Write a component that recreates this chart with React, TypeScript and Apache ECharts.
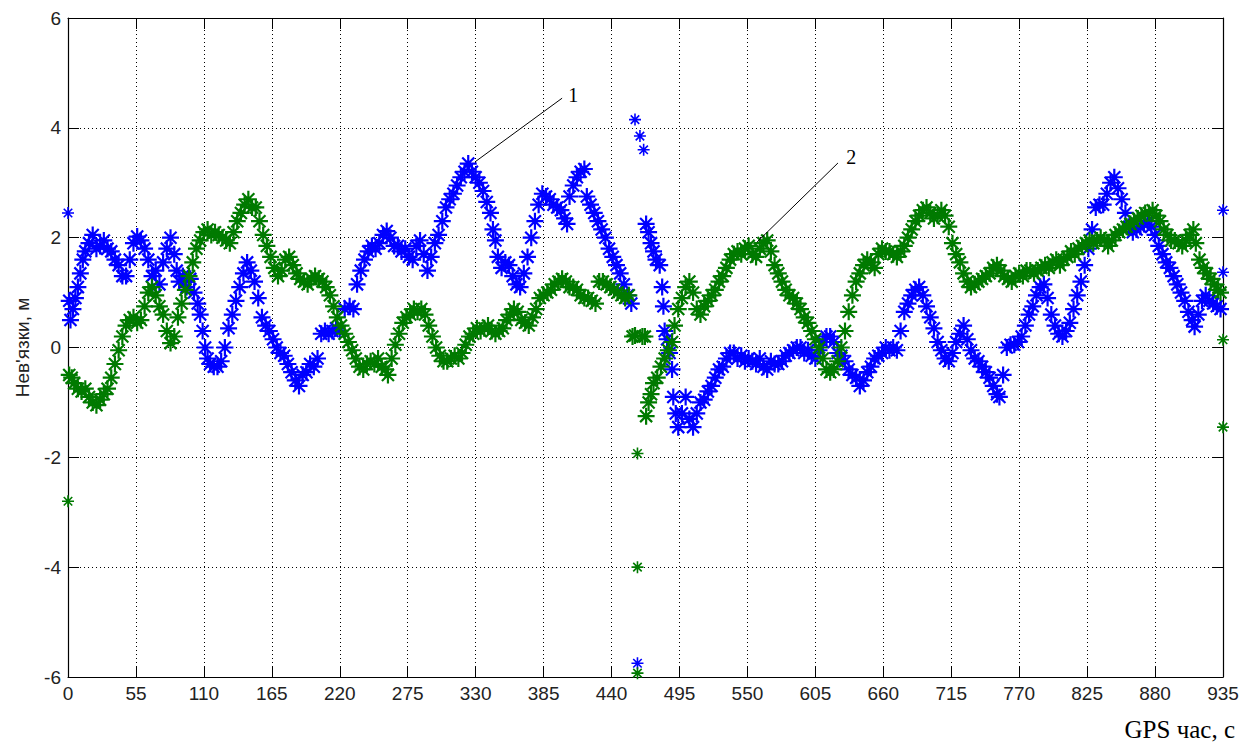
import React, { useEffect, useRef } from "react";
import * as echarts from "echarts";

const xMin = 0;
const xMax = 935;
const xStep = 55;
const yMin = -6;
const yMax = 6;
const yStep = 2;

const yAxisTitle = "Нев'язки, м";
const xAxisTitle = "GPS час, с";

// series 1 (blue): [time, residual]
const blueData: [number, number][] = [
  [1, 0.85], [2, 0.5], [4, 0.7], [6, 0.9], [8, 1.1], [10, 1.35], [12, 1.6], [14, 1.75], [17, 1.9],
  [20, 2.05], [23, 1.8], [26, 1.85], [29, 1.95], [32, 1.8], [35, 1.75], [38, 1.6], [41, 1.5], [44, 1.3], [47, 1.3],
  [50, 1.6], [53, 1.9], [56, 2.02], [59, 1.95], [62, 1.8], [65, 1.6], [68, 1.3], [71, 1.4], [74, 1.15], [77, 1.55],
  [80, 1.8], [83, 2.0], [86, 1.7], [88, 1.4], [90, 1.2], [93, 1.3], [96, 1.1], [99, 1.25], [102, 1.0], [105, 0.8],
  [107, 0.6], [109, 0.3], [111, 0.0], [113, -0.2], [115, -0.3], [118, -0.35], [121, -0.35], [124, -0.25], [127, 0.0], [130, 0.35],
  [133, 0.6], [136, 0.85], [139, 1.1], [142, 1.35], [145, 1.55], [148, 1.4], [151, 1.2], [154, 0.9], [157, 0.55], [160, 0.4],
  [163, 0.3], [166, 0.15], [169, 0.0], [172, -0.1], [175, -0.15], [178, -0.3], [181, -0.45], [184, -0.6], [187, -0.7], [190, -0.5],
  [193, -0.45], [196, -0.3], [199, -0.35], [202, -0.2], [205, 0.25], [208, 0.3], [211, 0.25], [214, 0.3], [217, 0.35], [220, 0.3],
  [224, 0.7], [228, 0.75], [231, 0.7], [234, 1.15], [237, 1.4], [240, 1.6], [243, 1.75], [246, 1.85], [249, 1.8], [252, 1.9],
  [255, 2.05], [258, 2.12], [261, 2.0], [264, 1.85], [267, 1.85], [270, 1.75], [273, 1.8], [276, 1.65], [279, 1.6], [282, 1.85],
  [285, 1.95], [288, 1.7], [291, 1.4], [294, 1.65], [297, 1.9], [300, 2.05], [303, 2.3], [306, 2.55], [309, 2.7], [312, 2.8],
  [315, 2.95], [318, 3.1], [321, 3.2], [324, 3.35], [327, 3.2], [330, 3.1], [333, 3.0], [336, 2.85], [339, 2.65], [342, 2.45],
  [344, 2.15], [346, 1.95], [348, 1.65], [351, 1.45], [354, 1.55], [357, 1.5], [360, 1.3], [363, 1.15], [366, 1.1], [369, 1.35],
  [372, 1.65], [375, 2.0], [378, 2.3], [381, 2.6], [384, 2.8], [387, 2.75], [390, 2.7], [393, 2.6], [396, 2.55], [399, 2.5],
  [402, 2.35], [404, 2.25], [406, 2.75], [409, 2.95], [412, 3.1], [415, 3.2], [418, 3.25], [420, 2.75], [423, 2.6], [426, 2.45],
  [429, 2.3], [432, 2.15], [435, 2.0], [438, 1.8], [441, 1.65], [444, 1.5], [447, 1.35], [450, 1.15], [453, 0.95], [456, 0.8],
  [468, 2.25], [470, 2.1], [472, 1.9], [474, 1.75], [476, 1.6], [479, 1.5],
  [481, 1.1], [482, 0.75], [483, 0.3], [485, 0.15], [487, -0.1], [489, -0.4], [490, -0.9], [492, -1.2], [494, -1.45], [497, -1.2],
  [500, -0.9], [503, -1.3], [506, -1.45], [509, -1.2], [512, -1.0], [515, -0.95], [518, -0.8], [521, -0.7], [524, -0.55], [527, -0.4],
  [530, -0.35], [533, -0.2], [536, -0.1], [539, -0.1], [542, -0.2], [545, -0.15], [548, -0.25], [551, -0.2], [554, -0.25], [557, -0.3],
  [560, -0.2], [563, -0.35], [566, -0.4], [569, -0.25], [572, -0.3], [575, -0.3], [578, -0.25], [581, -0.15], [584, -0.1], [587, -0.05],
  [590, 0.0], [593, 0.0], [596, -0.1], [599, -0.05], [602, -0.15], [605, -0.2], [608, -0.05], [611, 0.1], [614, 0.2], [617, 0.2],
  [620, 0.1], [623, -0.1], [626, -0.15], [629, -0.25], [632, -0.4], [635, -0.5], [638, -0.55], [641, -0.7], [644, -0.6], [647, -0.45],
  [650, -0.35], [653, -0.2], [656, -0.15], [659, -0.1], [662, 0.0], [665, -0.05], [668, 0.0], [671, -0.05], [674, 0.3], [677, 0.65],
  [680, 0.8], [683, 0.95], [686, 1.05], [689, 1.1], [692, 0.95], [695, 0.75], [698, 0.55], [701, 0.35], [704, 0.1], [707, -0.05],
  [710, -0.2], [713, -0.25], [716, -0.1], [719, 0.1], [722, 0.25], [725, 0.4], [728, 0.15], [731, -0.05], [734, -0.2], [737, -0.25],
  [740, -0.35], [743, -0.45], [746, -0.55], [749, -0.7], [752, -0.85], [754, -0.9], [757, -0.5], [760, 0.0], [763, 0.05], [766, 0.05],
  [769, 0.1], [772, 0.2], [775, 0.4], [778, 0.6], [781, 0.75], [784, 0.95], [787, 1.1], [790, 1.15], [793, 0.9], [796, 0.6],
  [799, 0.4], [802, 0.25], [805, 0.2], [808, 0.3], [811, 0.45], [814, 0.7], [817, 0.95], [820, 1.2], [823, 1.5], [826, 1.8],
  [829, 2.15], [832, 2.55], [835, 2.6], [838, 2.6], [841, 2.8], [844, 3.0], [847, 3.1], [850, 2.9], [853, 2.7], [856, 2.45],
  [859, 2.2], [862, 2.1], [865, 2.15], [868, 2.2], [871, 2.25], [874, 2.3], [877, 2.2], [880, 2.05], [883, 1.85], [886, 1.7],
  [889, 1.55], [892, 1.45], [895, 1.3], [898, 1.15], [901, 1.0], [904, 0.85], [907, 0.65], [910, 0.5], [912, 0.38], [915, 0.6],
  [918, 0.85], [921, 0.95], [924, 0.85], [927, 0.8], [930, 0.75], [933, 0.7],
];

// isolated blue points (start, outage, end)
const blueOutliers: [number, number][] = [
  [0, 2.45], [459, 4.15], [463, 3.85], [466, 3.6], [461, -5.75], [935, 2.5], [935, 1.37],
];

// series 2 (green): [time, residual]
const greenData: [number, number][] = [
  [1, -0.5], [3, -0.55], [5, -0.65], [8, -0.75], [11, -0.8], [14, -0.75], [17, -0.9], [20, -1.0], [23, -1.05],
  [26, -0.95], [29, -0.85], [32, -0.75], [35, -0.55], [38, -0.3], [41, -0.05], [44, 0.2], [47, 0.4], [50, 0.5], [53, 0.55],
  [56, 0.45], [59, 0.5], [62, 0.75], [65, 1.0], [68, 1.1], [71, 0.95], [74, 0.75], [77, 0.6], [80, 0.3], [83, 0.08],
  [86, 0.2], [89, 0.55], [92, 0.8], [95, 1.05], [98, 1.3], [101, 1.55], [104, 1.8], [107, 1.95], [110, 2.1], [113, 2.15],
  [116, 2.05], [119, 2.1], [122, 2.05], [125, 2.0], [128, 1.95], [131, 1.9], [134, 2.1], [137, 2.3], [140, 2.45], [143, 2.6],
  [146, 2.7], [149, 2.55], [152, 2.55], [155, 2.3], [158, 2.05], [161, 1.85], [164, 1.65], [167, 1.45], [170, 1.3], [173, 1.4],
  [176, 1.6], [179, 1.65], [182, 1.5], [185, 1.35], [188, 1.25], [191, 1.2], [194, 1.15], [197, 1.25], [200, 1.3], [203, 1.25],
  [206, 1.2], [209, 1.1], [212, 0.95], [215, 0.75], [218, 0.55], [221, 0.4], [224, 0.25], [227, 0.1], [230, -0.05], [233, -0.2],
  [236, -0.35], [239, -0.4], [242, -0.3], [245, -0.25], [248, -0.3], [251, -0.2], [254, -0.35], [257, -0.4], [259, -0.5], [262, -0.2],
  [265, 0.05], [268, 0.25], [271, 0.45], [274, 0.55], [277, 0.6], [280, 0.7], [283, 0.65], [286, 0.7], [289, 0.6], [292, 0.4],
  [295, 0.2], [298, 0.0], [301, -0.15], [304, -0.25], [307, -0.25], [310, -0.2], [313, -0.15], [316, -0.2], [319, -0.1], [322, 0.05],
  [325, 0.2], [328, 0.25], [331, 0.35], [334, 0.3], [337, 0.35], [340, 0.4], [343, 0.3], [346, 0.25], [349, 0.3], [352, 0.35],
  [355, 0.5], [358, 0.6], [361, 0.7], [364, 0.65], [367, 0.5], [370, 0.45], [373, 0.4], [376, 0.55], [379, 0.7], [382, 0.9],
  [385, 0.95], [388, 1.0], [391, 1.05], [394, 1.15], [397, 1.2], [400, 1.25], [403, 1.2], [406, 1.1], [409, 1.1], [412, 1.05],
  [415, 0.95], [418, 0.9], [421, 0.9], [424, 0.85], [427, 0.8], [430, 1.2], [433, 1.2], [436, 1.15], [439, 1.1], [442, 1.05],
  [445, 1.0], [448, 0.95], [451, 0.9], [454, 0.95], [457, 0.2], [459, 0.22], [465, 0.2],
  [467, 0.2], [468, -1.25], [470, -1.0], [472, -0.85], [474, -0.65], [477, -0.55], [480, -0.35], [483, -0.2], [486, -0.05], [489, 0.1],
  [491, 0.4], [494, 0.7], [497, 0.9], [500, 1.1], [503, 1.2], [506, 1.0], [509, 0.7], [512, 0.6], [515, 0.75], [518, 0.85],
  [521, 0.95], [524, 1.05], [527, 1.2], [530, 1.3], [533, 1.45], [536, 1.6], [539, 1.7], [542, 1.75], [545, 1.7], [548, 1.8],
  [551, 1.85], [554, 1.7], [557, 1.65], [560, 1.8], [563, 1.9], [566, 1.95], [569, 1.75], [572, 1.5], [575, 1.35], [578, 1.2],
  [581, 1.05], [584, 0.95], [587, 0.9], [590, 0.8], [593, 0.7], [596, 0.55], [599, 0.45], [602, 0.3], [605, 0.15], [608, 0.0],
  [611, -0.2], [614, -0.4], [617, -0.45], [620, -0.4], [623, -0.25], [626, 0.0], [629, 0.3], [632, 0.65], [635, 0.95], [638, 1.2],
  [641, 1.35], [644, 1.5], [647, 1.6], [650, 1.55], [653, 1.45], [656, 1.7], [659, 1.8], [662, 1.75], [665, 1.75], [668, 1.7],
  [671, 1.65], [674, 1.75], [677, 1.85], [680, 2.0], [683, 2.15], [686, 2.3], [689, 2.4], [692, 2.5], [695, 2.55], [698, 2.45],
  [701, 2.35], [704, 2.4], [707, 2.5], [710, 2.4], [713, 2.2], [716, 1.9], [719, 1.7], [722, 1.55], [725, 1.35], [728, 1.2],
  [731, 1.1], [734, 1.15], [737, 1.2], [740, 1.25], [743, 1.3], [746, 1.35], [749, 1.45], [752, 1.5], [755, 1.4], [758, 1.3],
  [761, 1.25], [764, 1.2], [767, 1.3], [770, 1.35], [773, 1.3], [776, 1.4], [779, 1.4], [782, 1.35], [785, 1.4], [788, 1.45],
  [791, 1.5], [794, 1.45], [797, 1.55], [800, 1.6], [803, 1.5], [806, 1.6], [809, 1.65], [812, 1.75], [815, 1.7], [818, 1.8],
  [821, 1.85], [824, 1.9], [827, 1.95], [830, 1.9], [833, 1.95], [836, 2.0], [839, 1.95], [842, 1.85], [845, 1.95], [848, 2.05],
  [851, 2.1], [854, 2.15], [857, 2.2], [860, 2.25], [863, 2.3], [866, 2.35], [869, 2.4], [872, 2.45], [875, 2.45], [878, 2.5],
  [881, 2.4], [884, 2.3], [887, 2.15], [890, 2.05], [893, 1.95], [896, 1.95], [899, 1.9], [902, 1.85], [905, 1.95], [908, 2.05],
  [911, 2.15], [913, 1.9], [916, 1.6], [919, 1.45], [922, 1.35], [925, 1.25], [928, 1.15], [931, 1.05], [933, 1.0],
];

// isolated green points (start, outage, end)
const greenOutliers: [number, number][] = [
  [0, -2.8], [461, -1.93], [461, -4.0], [461, -5.93], [935, 0.14], [935, -1.45],
];

// leader lines: label, from (data), to (data), text anchor (data)
const annotation1 = { label: "1", from: [329.5, 3.38], to: [400, 4.54], text: [409, 4.6] };
const annotation2 = { label: "2", from: [557.8, 1.92], to: [623.3, 3.36], text: [634, 3.47] };

const BLUE = "#0000ff";
const GREEN = "#007a00";
const STAR = "path://M6,0L6,12M0,6L12,6M1.76,1.76L10.24,10.24M1.76,10.24L10.24,1.76";

function annotationMarks(a: { label: string; from: number[]; to: number[]; text: number[] }) {
  return {
    markLine: {
      silent: true,
      symbol: ["none", "none"],
      lineStyle: { color: "#000", width: 1, type: "solid" },
      label: { show: false },
      data: [[{ coord: a.from }, { coord: a.to }]],
    },
    markPoint: {
      silent: true,
      symbol: "circle",
      symbolSize: 1,
      itemStyle: { color: "rgba(0,0,0,0)" },
      label: {
        show: true,
        position: "inside",
        formatter: a.label,
        color: "#000",
        fontFamily: "Liberation Serif, serif",
        fontSize: 20,
      },
      data: [{ coord: a.text }],
    },
  };
}

function starSeries(name: string, data: [number, number][], color: string, size: number, width: number) {
  return {
    type: "scatter",
    name,
    data,
    symbol: STAR,
    symbolSize: size,
    itemStyle: { color, borderColor: color, borderWidth: width, opacity: 1 },
    emphasis: { disabled: true },
  };
}

export default function App() {
  const ref = useRef<HTMLDivElement>(null);
  useEffect(() => {
    if (!ref.current) return;
    const chart = echarts.init(ref.current, undefined, { renderer: "svg" });
    const axisLabelStyle = {
      color: "#222",
      fontFamily: "Liberation Sans, Arial, sans-serif",
      fontSize: 19,
    };
    const gridLine = { show: true, lineStyle: { color: "#000", width: 1, type: [1, 3] as any } };
    const tick = { show: true, inside: true, length: 11, lineStyle: { color: "#000", width: 1 } };
    chart.setOption({
      animation: false,
      backgroundColor: "#fff",
      grid: { left: 68, top: 18, right: 29, bottom: 70, containLabel: false },
      xAxis: [
        {
          type: "value",
          min: xMin,
          max: xMax,
          interval: xStep,
          axisLine: { show: true, onZero: false, lineStyle: { color: "#000", width: 1.2 } },
          axisTick: tick,
          axisLabel: { ...axisLabelStyle, margin: 7 },
          splitLine: gridLine,
        },
        {
          type: "value",
          position: "top",
          min: xMin,
          max: xMax,
          interval: xStep,
          axisLine: { show: true, onZero: false, lineStyle: { color: "#000", width: 1.2 } },
          axisTick: tick,
          axisLabel: { show: false },
          splitLine: { show: false },
        },
      ],
      yAxis: [
        {
          type: "value",
          min: yMin,
          max: yMax,
          interval: yStep,
          name: yAxisTitle,
          nameLocation: "middle",
          nameGap: 36,
          nameTextStyle: {
            color: "#222",
            fontFamily: "Liberation Sans, Arial, sans-serif",
            fontSize: 19,
          },
          axisLine: { show: true, onZero: false, lineStyle: { color: "#000", width: 1.2 } },
          axisTick: tick,
          axisLabel: { ...axisLabelStyle, margin: 7 },
          splitLine: gridLine,
        },
        {
          type: "value",
          position: "right",
          min: yMin,
          max: yMax,
          interval: yStep,
          axisLine: { show: true, onZero: false, lineStyle: { color: "#000", width: 1.2 } },
          axisTick: tick,
          axisLabel: { show: false },
          splitLine: { show: false },
        },
      ],
      graphic: [
        {
          type: "text",
          right: 17,
          top: 717,
          style: {
            text: xAxisTitle,
            fill: "#000",
            font: "25px 'Liberation Serif', serif",
          },
        },
      ],
      series: [
        { ...starSeries("1", blueData, BLUE, 17, 2.2), ...annotationMarks(annotation1) },
        starSeries("1 isolated", blueOutliers, BLUE, 12, 1.6),
        { ...starSeries("2", greenData, GREEN, 17, 2.2), ...annotationMarks(annotation2) },
        starSeries("2 isolated", greenOutliers, GREEN, 12, 1.6),
      ],
    });
    return () => chart.dispose();
  }, []);
  return (
    <div
      ref={ref}
      style={{ position: "fixed", left: 0, top: 0, width: 1252, height: 747, background: "#fff" }}
    />
  );
}
